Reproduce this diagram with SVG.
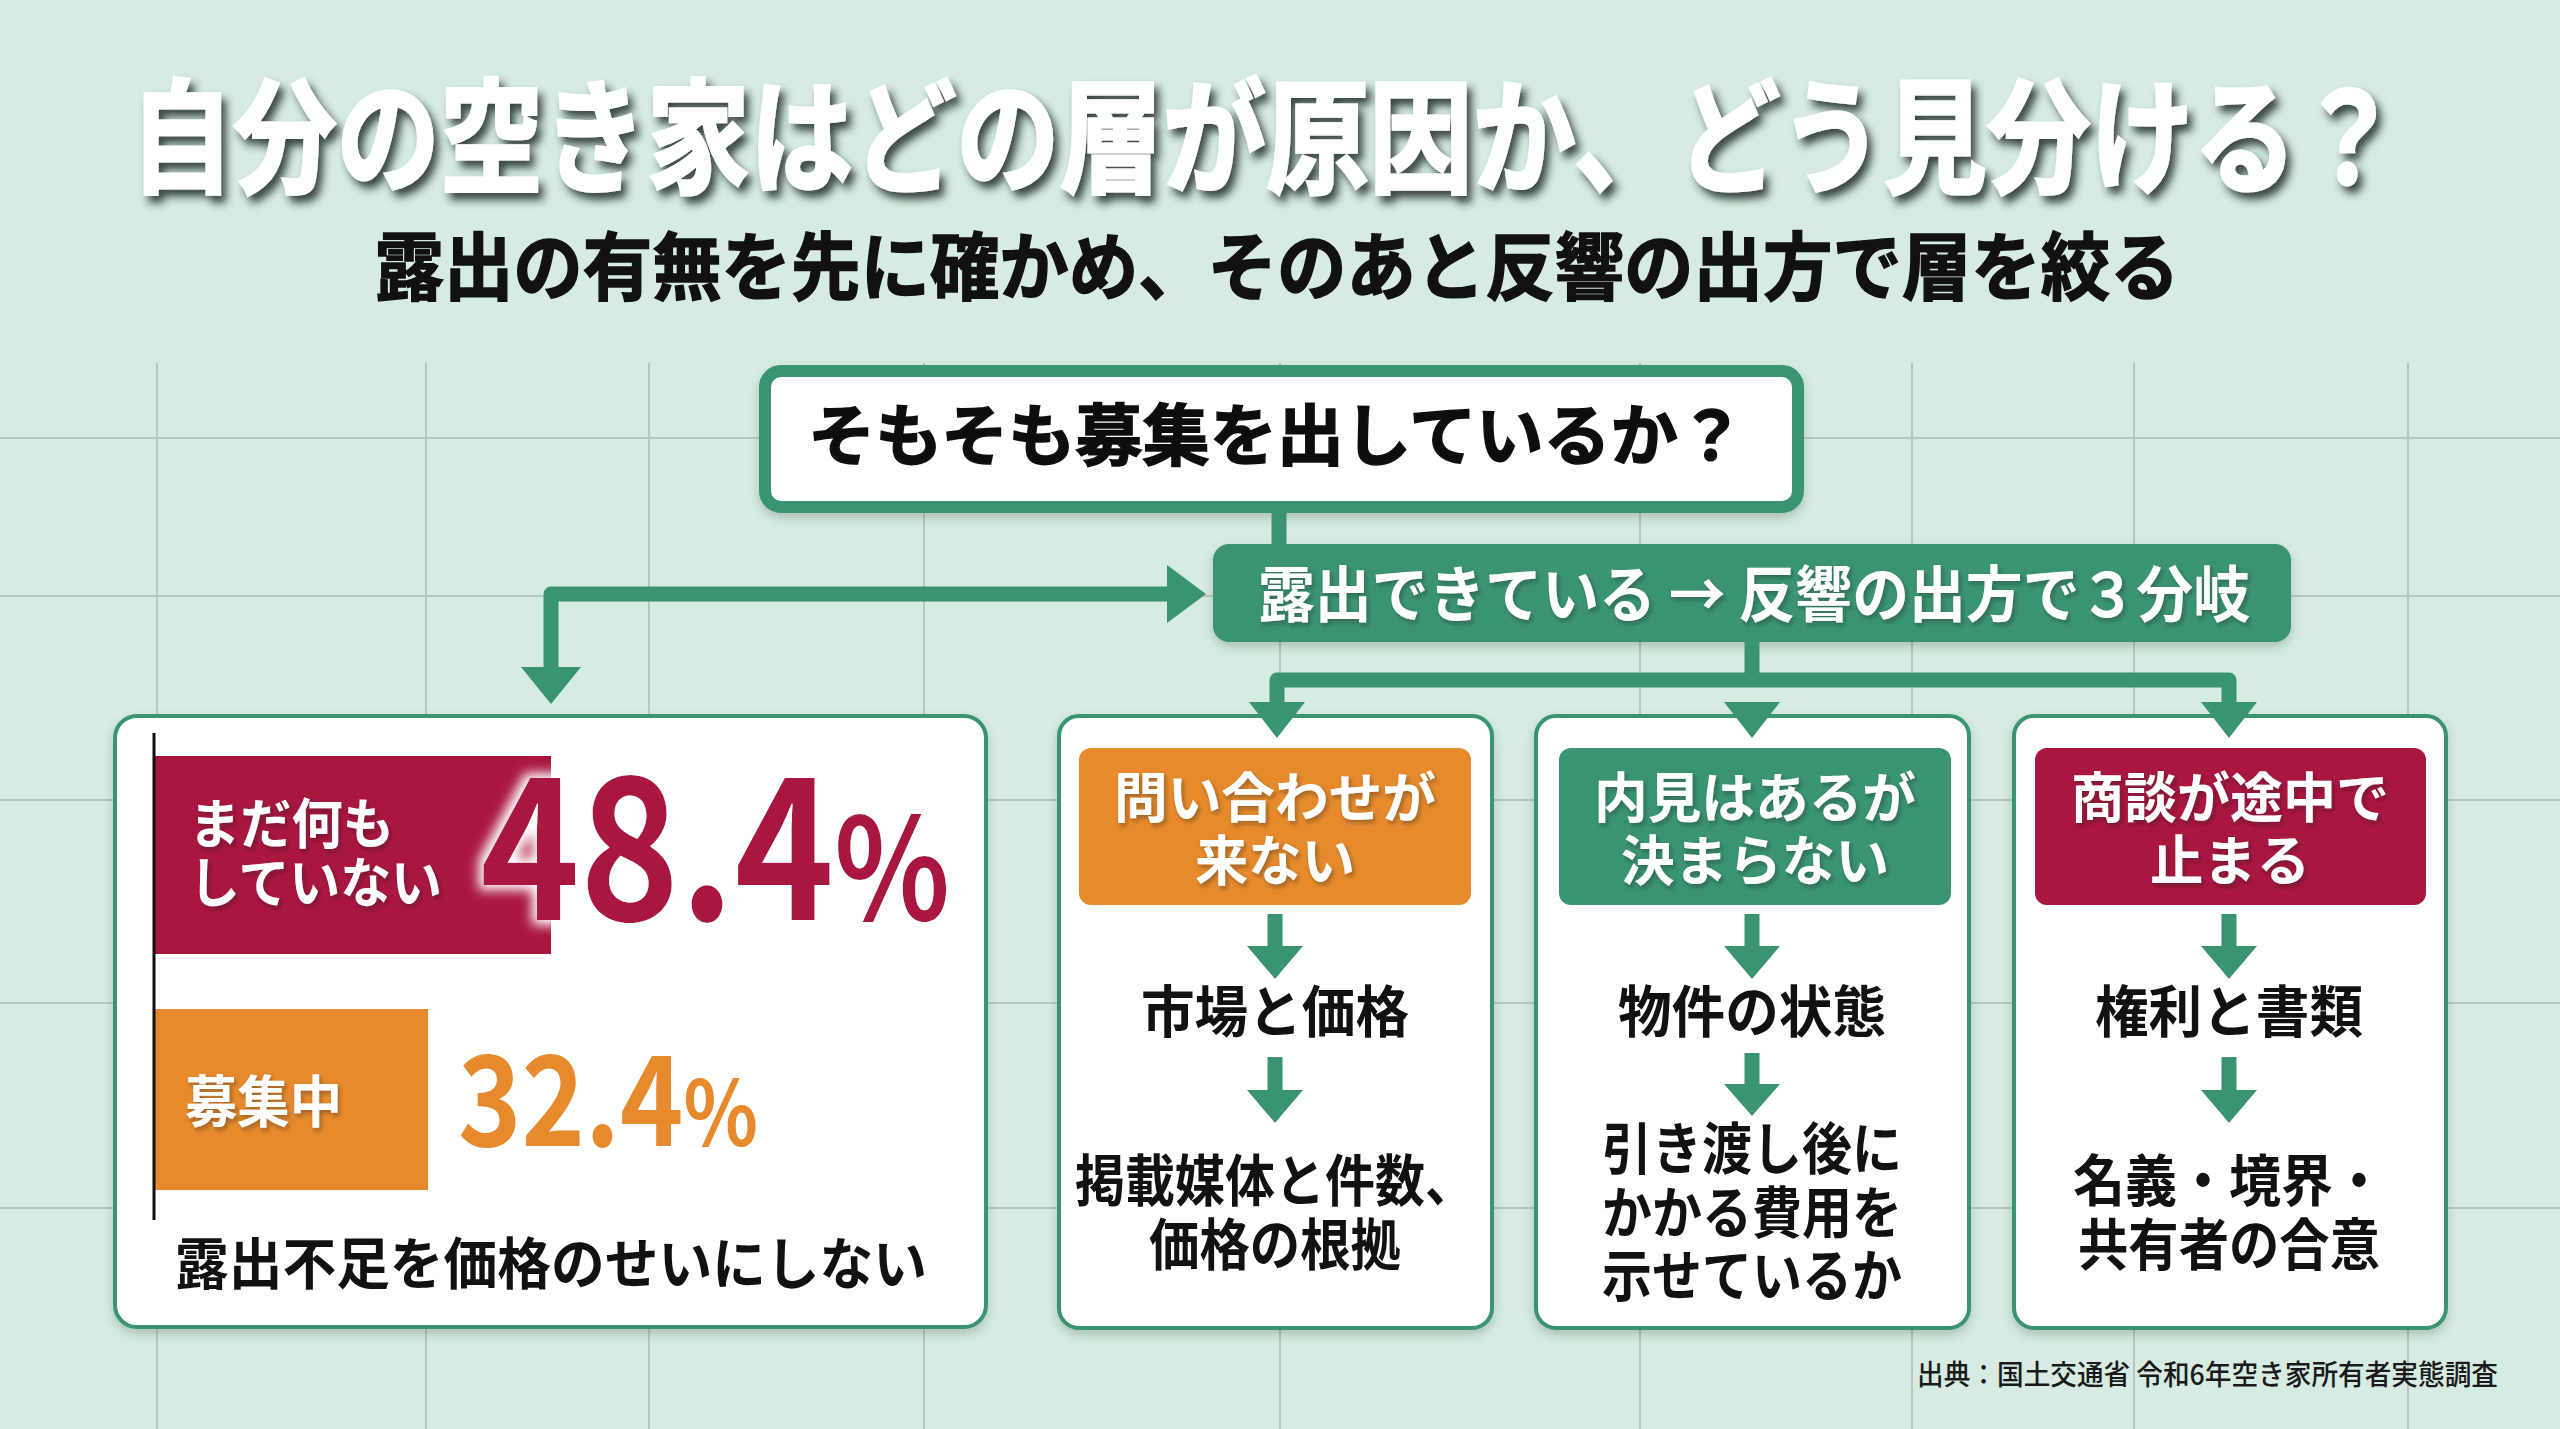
<svg xmlns="http://www.w3.org/2000/svg" width="2560" height="1429" viewBox="0 0 2560 1429">
<defs>
<filter id="titleShadow" x="-5%" y="-40%" width="110%" height="190%">
<feGaussianBlur in="SourceAlpha" stdDeviation="4"/>
<feOffset dx="5" dy="7" result="b"/>
<feFlood flood-color="#1e2a25" flood-opacity="0.85"/>
<feComposite in2="b" operator="in" result="s"/>
<feMerge><feMergeNode in="s"/><feMergeNode in="SourceGraphic"/></feMerge>
</filter>
<filter id="softShadow" x="-10%" y="-10%" width="120%" height="130%">
<feDropShadow dx="0" dy="5" stdDeviation="5" flood-color="#2b4a3c" flood-opacity="0.25"/>
</filter>
<filter id="txtShadow" x="-5%" y="-20%" width="110%" height="150%">
<feDropShadow dx="2" dy="3" stdDeviation="2" flood-color="#1a1a1a" flood-opacity="0.35"/>
</filter>
<filter id="glow" x="-10%" y="-20%" width="120%" height="140%">
<feMorphology in="SourceAlpha" operator="dilate" radius="5" result="d"/>
<feGaussianBlur in="d" stdDeviation="6" result="g"/>
<feFlood flood-color="#ffffff" flood-opacity="1"/>
<feComposite in2="g" operator="in" result="w"/>
<feMerge><feMergeNode in="w"/><feMergeNode in="SourceGraphic"/></feMerge>
</filter>
</defs>
<style>
.jp{font-family:"Noto Sans CJK JP","Noto Sans",sans-serif;font-weight:700}
.grid{stroke:#b9c6bf;stroke-width:2;fill:none}
.panel{fill:#ffffff;stroke:#3a9471;stroke-width:4}
.wire{fill:none;stroke:#3a9471;stroke-width:15;stroke-linejoin:round}
.head{fill:#3a9471}
.w{fill:#ffffff}
.k{fill:#111111}
.mid{text-anchor:middle}
</style>
<rect width="2560" height="1429" fill="#d6ece2"/>
<g id="grid">
<path class="grid" d="M157 363V1429M426 363V1429M649 363V1429M924 363V1429M1280 363V1429M1640 363V1429M1912 363V1429M2134 363V1429M2408 363V1429"/>
<path class="grid" d="M0 438H2560M0 596H2560M0 800H2560M0 1003H2560M0 1208H2560"/>
</g>
<g id="title">
<text class="jp w mid" x="1265" y="183" font-size="124" font-weight="900" stroke="#ffffff" stroke-width="3" textLength="2270" lengthAdjust="spacingAndGlyphs" filter="url(#titleShadow)">自分の空き家はどの層が原因か、どう見分ける？</text>
<text class="jp k mid" x="1277" y="294" font-size="74" font-weight="900" stroke="#111111" stroke-width="1.5" textLength="1805" lengthAdjust="spacingAndGlyphs">露出の有無を先に確かめ、そのあと反響の出方で層を絞る</text>
</g>
<g id="node-question" filter="url(#softShadow)">
<rect x="765" y="371" width="1033" height="136" rx="16" fill="#ffffff" stroke="#3a9471" stroke-width="12"/>
<text class="jp k" x="808" y="460" font-size="67" font-weight="900" stroke="#111111" stroke-width="1.5" textLength="937" lengthAdjust="spacingAndGlyphs">そもそも募集を出しているか？</text>
</g>
<g id="node-exposed">
<rect x="1213" y="544" width="1078" height="98" rx="16" fill="#3a9471" filter="url(#softShadow)"/>
<text class="jp w" x="1258" y="617" font-size="61" textLength="992" lengthAdjust="spacingAndGlyphs" filter="url(#txtShadow)">露出できている → 反響の出方で３分岐</text>
</g>
<g id="node-status">
<rect class="panel" x="115" y="716" width="871" height="611" rx="22" filter="url(#softShadow)"/>
<rect x="153" y="756" width="398" height="198" fill="#a9173f"/>
<rect x="153" y="1009" width="275" height="181" fill="#e68a2d"/>
<line x1="154" y1="733" x2="154" y2="1220" stroke="#111111" stroke-width="3"/>
<text class="jp w" x="189" y="844" font-size="54" textLength="205" lengthAdjust="spacingAndGlyphs" filter="url(#txtShadow)">まだ何も</text>
<text class="jp w" x="189" y="903" font-size="54" textLength="253" lengthAdjust="spacingAndGlyphs" filter="url(#txtShadow)">していない</text>
<text class="jp" x="480" y="920" font-size="197" fill="#a9173f" textLength="470" lengthAdjust="spacingAndGlyphs" filter="url(#glow)">48.4<tspan font-size="140">%</tspan></text>
<text class="jp w" x="185" y="1122" font-size="56" textLength="157" lengthAdjust="spacingAndGlyphs" filter="url(#txtShadow)">募集中</text>
<text class="jp" x="458" y="1146" font-size="125" fill="#e68a2d" textLength="300" lengthAdjust="spacingAndGlyphs">32.4<tspan font-size="90">%</tspan></text>
<text class="jp k mid" x="551" y="1284" font-size="56" textLength="752" lengthAdjust="spacingAndGlyphs">露出不足を価格のせいにしない</text>
</g>
<g id="node-inquiry">
<rect class="panel" x="1059" y="716" width="433" height="612" rx="20" filter="url(#softShadow)"/>
<rect x="1079" y="748" width="392" height="157" rx="12" fill="#e68a2d"/>
<text class="jp w mid" x="1275" y="818" font-size="54" textLength="322" lengthAdjust="spacingAndGlyphs" filter="url(#txtShadow)">問い合わせが</text>
<text class="jp w mid" x="1275" y="881" font-size="54" textLength="160" lengthAdjust="spacingAndGlyphs" filter="url(#txtShadow)">来ない</text>
<text class="jp k mid" x="1275" y="1032" font-size="56" textLength="268" lengthAdjust="spacingAndGlyphs">市場と価格</text>
<text class="jp k mid" x="1275" y="1201" font-size="56" textLength="400" lengthAdjust="spacingAndGlyphs">掲載媒体と件数、</text>
<text class="jp k mid" x="1275" y="1265" font-size="56" textLength="252" lengthAdjust="spacingAndGlyphs">価格の根拠</text>
</g>
<g id="node-viewing">
<rect class="panel" x="1536" y="716" width="433" height="612" rx="20" filter="url(#softShadow)"/>
<rect x="1559" y="748" width="392" height="157" rx="12" fill="#3a9471"/>
<text class="jp w mid" x="1755" y="818" font-size="54" textLength="322" lengthAdjust="spacingAndGlyphs" filter="url(#txtShadow)">内見はあるが</text>
<text class="jp w mid" x="1755" y="881" font-size="54" textLength="268" lengthAdjust="spacingAndGlyphs" filter="url(#txtShadow)">決まらない</text>
<text class="jp k mid" x="1752" y="1032" font-size="56" textLength="268" lengthAdjust="spacingAndGlyphs">物件の状態</text>
<text class="jp k mid" x="1752" y="1169" font-size="56" textLength="300" lengthAdjust="spacingAndGlyphs">引き渡し後に</text>
<text class="jp k mid" x="1752" y="1233" font-size="56" textLength="300" lengthAdjust="spacingAndGlyphs">かかる費用を</text>
<text class="jp k mid" x="1752" y="1296" font-size="56" textLength="300" lengthAdjust="spacingAndGlyphs">示せているか</text>
</g>
<g id="node-negotiation">
<rect class="panel" x="2014" y="716" width="432" height="612" rx="20" filter="url(#softShadow)"/>
<rect x="2035" y="748" width="391" height="157" rx="12" fill="#a9173f"/>
<text class="jp w mid" x="2230" y="818" font-size="54" textLength="318" lengthAdjust="spacingAndGlyphs" filter="url(#txtShadow)">商談が途中で</text>
<text class="jp w mid" x="2230" y="881" font-size="54" textLength="160" lengthAdjust="spacingAndGlyphs" filter="url(#txtShadow)">止まる</text>
<text class="jp k mid" x="2229" y="1032" font-size="56" textLength="268" lengthAdjust="spacingAndGlyphs">権利と書類</text>
<text class="jp k mid" x="2229" y="1201" font-size="56" textLength="312" lengthAdjust="spacingAndGlyphs">名義・境界・</text>
<text class="jp k mid" x="2229" y="1265" font-size="56" textLength="302" lengthAdjust="spacingAndGlyphs">共有者の合意</text>
</g>
<g id="connectors">
<path class="wire" d="M1279 510V546"/>
<path class="wire" d="M1170 594H551V669"/>
<polygon class="head" points="1167,565 1167,623 1206,594"/>
<polygon class="head" points="521,667 581,667 551,704"/>
<path class="wire" d="M1752 640V680M1277 704V680H2229V704"/>
<polygon class="head" points="1249,702 1305,702 1277,738"/>
<polygon class="head" points="1724,702 1780,702 1752,738"/>
<polygon class="head" points="2201,702 2257,702 2229,738"/>
<path class="wire" d="M1275 914V948M1275 1057V1092M1752 914V948M1752 1053V1086M2229 914V948M2229 1057V1092"/>
<polygon class="head" points="1247,946 1303,946 1275,979"/>
<polygon class="head" points="1247,1090 1303,1090 1275,1123"/>
<polygon class="head" points="1724,946 1780,946 1752,979"/>
<polygon class="head" points="1724,1084 1780,1084 1752,1116"/>
<polygon class="head" points="2201,946 2257,946 2229,979"/>
<polygon class="head" points="2201,1090 2257,1090 2229,1123"/>
</g>
<g id="source">
<text x="1917" y="1385" font-family="Noto Sans CJK JP, sans-serif" font-weight="500" font-size="28" fill="#1a1a1a" textLength="581" lengthAdjust="spacingAndGlyphs">出典：国土交通省 令和6年空き家所有者実態調査</text>
</g>
</svg>
